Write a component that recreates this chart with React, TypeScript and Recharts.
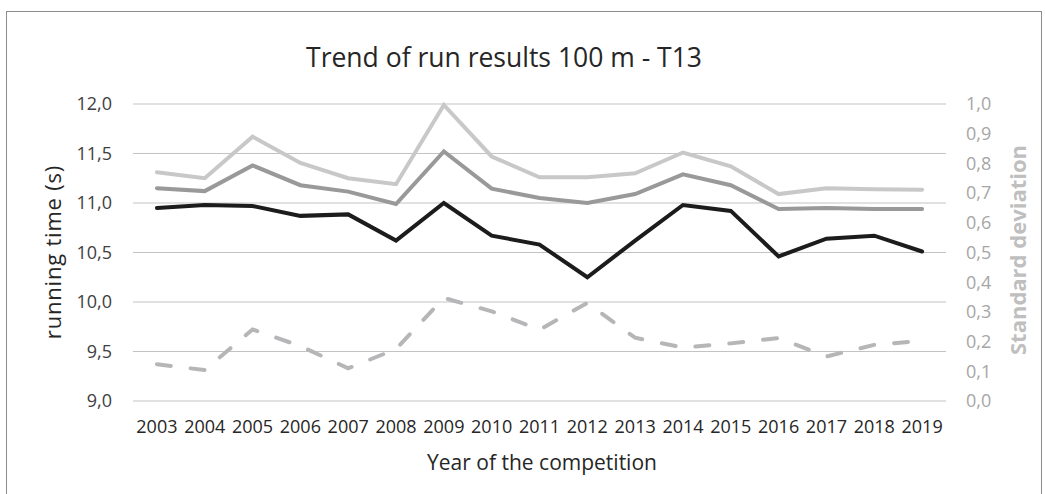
import { CartesianGrid, Line, LineChart, XAxis, YAxis } from "recharts";

const years = [
  "2003", "2004", "2005", "2006", "2007", "2008", "2009", "2010", "2011",
  "2012", "2013", "2014", "2015", "2016", "2017", "2018", "2019",
];
const bestTime = [
  10.95, 10.98, 10.97, 10.87, 10.885, 10.62, 11.0, 10.67, 10.58, 10.25, 10.62,
  10.98, 10.92, 10.46, 10.64, 10.67, 10.51,
];
const meanTime = [
  11.15, 11.12, 11.38, 11.18, 11.115, 10.99, 11.52, 11.145, 11.05, 11.0, 11.09,
  11.29, 11.18, 10.94, 10.95, 10.94, 10.94,
];
const slowTime = [
  11.31, 11.25, 11.67, 11.405, 11.25, 11.19, 11.99, 11.47, 11.26, 11.26, 11.3,
  11.51, 11.37, 11.09, 11.15, 11.14, 11.135,
];
const stdDev = [
  0.124, 0.104, 0.241, 0.185, 0.11, 0.175, 0.347, 0.302, 0.24, 0.33, 0.213,
  0.18, 0.194, 0.212, 0.15, 0.189, 0.203,
];
const leftTicks = [9, 9.5, 10, 10.5, 11, 11.5, 12];
const rightTicks = [0, 0.1, 0.2, 0.3, 0.4, 0.5, 0.6, 0.7, 0.8, 0.9, 1];

const data = years.map((year, i) => ({
  year,
  best: bestTime[i],
  mean: meanTime[i],
  slow: slowTime[i],
  sd: stdDev[i],
}));

// boundaries between categories, for the tick marks under the axis line
const boundaryTicks = Array.from({ length: years.length + 1 }, (_, i) => i);

const comma = (v: number) => v.toFixed(1).replace(".", ",");
const font = "'Open Sans', sans-serif";
const padX = (946 - 133) / (years.length * 2);

export default function App() {
  return (
    <div
      style={{
        position: "absolute",
        left: 0,
        top: 0,
        width: 1045,
        height: 494,
        background: "#fff",
        fontFamily: font,
        overflow: "hidden",
      }}
    >
      <div
        style={{
          position: "absolute",
          left: 6,
          top: 11,
          width: 1034,
          height: 520,
          border: "1px solid #8c8c8c",
        }}
      />
      <LineChart
        width={1045}
        height={494}
        data={data}
        margin={{ top: 104, right: 39, bottom: 63, left: 73 }}
        style={{ position: "absolute", left: 0, top: 0 }}
      >
        <CartesianGrid
          vertical={false}
          stroke="#c3c3c3"
          yAxisId="l"
          xAxisId="c"
        />
        <XAxis
          xAxisId="g"
          type="number"
          domain={[0, years.length]}
          allowDataOverflow
          ticks={boundaryTicks}
          tick={false}
          height={0}
          axisLine={{ stroke: "#bdbdbd" }}
          tickLine={{ stroke: "#bdbdbd" }}
          tickSize={6}
        />
        <XAxis
          xAxisId="c"
          dataKey="year"
          interval={0}
          height={30}
          padding={{ left: padX, right: padX }}
          axisLine={false}
          tickLine={false}
          tickSize={0}
          tickMargin={19}
          tick={{ fill: "#262626", fontSize: 18, fontFamily: font }}
        />
        <YAxis
          yAxisId="l"
          domain={[9, 12]}
          ticks={leftTicks}
          width={60}
          axisLine={false}
          tickLine={false}
          tickSize={0}
          tickMargin={21}
          tickFormatter={comma}
          tick={{ fill: "#404040", fontSize: 18, fontFamily: font }}
        />
        <YAxis
          yAxisId="r"
          orientation="right"
          domain={[0, 1]}
          ticks={rightTicks}
          width={60}
          axisLine={false}
          tickLine={false}
          tickSize={0}
          tickMargin={20}
          tickFormatter={comma}
          tick={{ fill: "#a6a6a6", fontSize: 18, fontFamily: font }}
        />
        <Line
          xAxisId="c"
          yAxisId="r"
          dataKey="sd"
          stroke="#b6b6b8"
          strokeWidth={4}
          strokeDasharray="14 20"
          strokeLinecap="round"
          dot={false}
          isAnimationActive={false}
        />
        <Line
          xAxisId="c"
          yAxisId="l"
          dataKey="slow"
          stroke="#c8c8c8"
          strokeWidth={4}
          strokeLinecap="round"
          dot={false}
          isAnimationActive={false}
        />
        <Line
          xAxisId="c"
          yAxisId="l"
          dataKey="mean"
          stroke="#999999"
          strokeWidth={4}
          strokeLinecap="round"
          dot={false}
          isAnimationActive={false}
        />
        <Line
          xAxisId="c"
          yAxisId="l"
          dataKey="best"
          stroke="#1c1c1c"
          strokeWidth={4}
          strokeLinecap="round"
          dot={false}
          isAnimationActive={false}
        />
      </LineChart>
      <svg
        width={1045}
        height={494}
        style={{ position: "absolute", left: 0, top: 0, pointerEvents: "none" }}
        fontFamily={font}
      >
        <text x={504} y={67} textAnchor="middle" fontSize={26.5} fill="#262626">
          Trend of run results 100 m - T13
        </text>
        <text x={542} y={470} textAnchor="middle" fontSize={21} fill="#262626">
          Year of the competition
        </text>
        <text
          x={61}
          y={252}
          textAnchor="middle"
          fontSize={22}
          letterSpacing={0.8}
          fill="#262626"
          transform="rotate(-90 61 252)"
        >
          running time (s)
        </text>
        <text
          x={1026}
          y={250}
          textAnchor="middle"
          fontSize={22}
          fontWeight="bold"
          fill="#bfbfbf"
          transform="rotate(-90 1026 250)"
        >
          Standard deviation
        </text>
      </svg>
    </div>
  );
}
